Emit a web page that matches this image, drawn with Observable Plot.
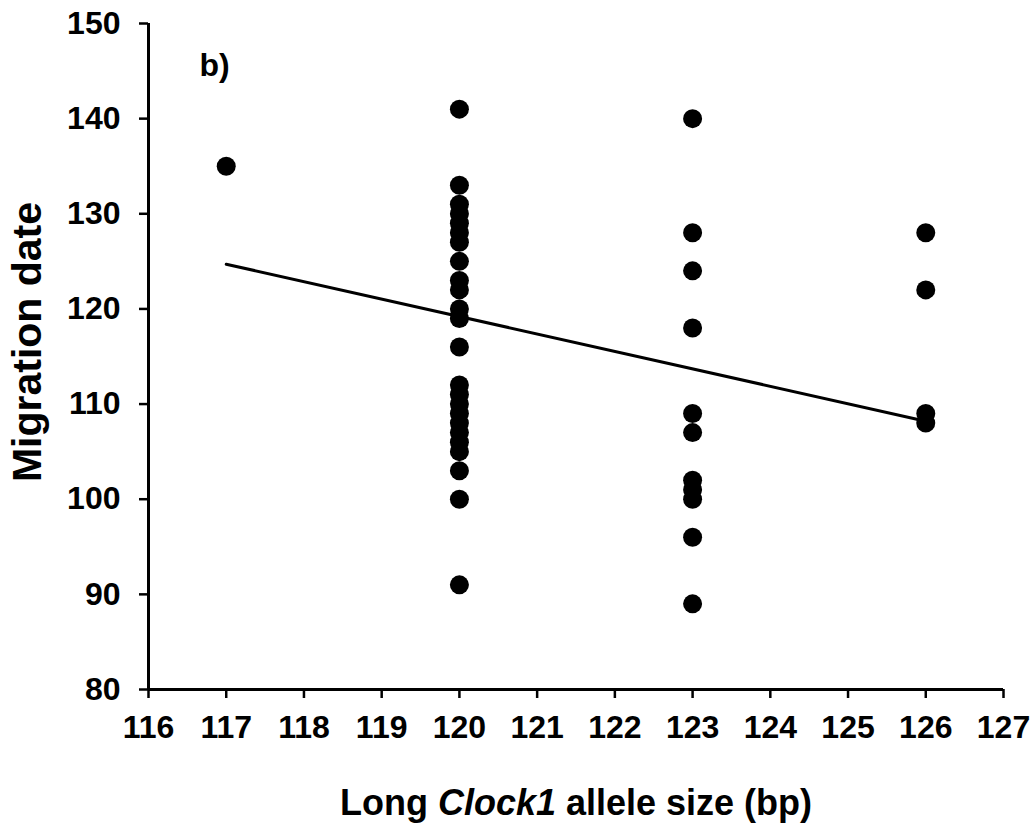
<!DOCTYPE html>
<html><head><meta charset="utf-8">
<script src="https://cdn.jsdelivr.net/npm/d3@7"></script>
<script src="https://cdn.jsdelivr.net/npm/@observablehq/plot@0.6"></script>
<style>body{margin:0;background:#fff;font-family:"Liberation Sans",Arial,sans-serif}</style>
</head><body><div id="chart"></div>
<script>
// Long Clock1 allele size (bp) groups and migration dates
const alleleSizes = [117, 120, 123, 126];
const dates117 = [135];
const dates120 = [141,133,131,130,129,128,127,125,123,122,120,119,116,112,111,110,109,108,107,106,105,103,100,91];
const dates123 = [140,128,124,118,109,107,102,101,100,96,89];
const dates126 = [128,122,109,108];
const trendX = [117, 126];
const trendY = [124.7, 108.2];
const xTicks = [116,117,118,119,120,121,122,123,124,125,126,127];
const yTicks = [80,90,100,110,120,130,140,150];
const panelLabel = "b)";

const groups = [dates117, dates120, dates123, dates126];
const points = groups.flatMap((ds, i) => ds.map(d => ({size: alleleSizes[i], date: d})));
const trend = trendX.map((x, i) => ({x, y: trendY[i]}));

const font = {fontFamily: '"Liberation Sans", Arial, sans-serif', fontWeight: "bold"};

const chart = Plot.plot({
  width: 1030, height: 823,
  marginLeft: 148, marginRight: 27, marginTop: 23, marginBottom: 134,
  style: {fontFamily: font.fontFamily, fontSize: "32px", fontWeight: "bold", background: "#fff", color: "#000"},
  x: {domain: [116, 127]},
  y: {domain: [80, 150]},
  marks: [
    Plot.axisX({ticks: xTicks, tickSize: 9, tickPadding: 17, strokeWidth: 2.5, label: null, fontSize: 32, fontWeight: "bold", tickFormat: d => String(d)}),
    Plot.axisY({ticks: yTicks, tickSize: 9, tickPadding: 19, strokeWidth: 2.5, label: null, fontSize: 32, fontWeight: "bold", tickFormat: d => String(d)}),
    Plot.ruleX([116], {strokeWidth: 3}),
    Plot.ruleY([80], {strokeWidth: 3}),
    Plot.line(trend, {x: "x", y: "y", stroke: "black", strokeWidth: 3}),
    Plot.dot(points, {x: "size", y: "date", r: 9.5, fill: "black"}),
    Plot.text([panelLabel], {frameAnchor: "top-left", dx: 51, dy: 30, fontSize: 32, fontWeight: "bold", textAnchor: "start", lineAnchor: "top"})
  ]
});
document.getElementById("chart").appendChild(chart);

const svg = d3.select(chart);
svg.append("text")
  .attr("transform", "translate(41,342) rotate(-90)")
  .attr("text-anchor", "middle")
  .attr("font-size", 41).attr("font-weight", "bold")
  .attr("font-family", font.fontFamily)
  .attr("fill", "#000")
  .text("Migration date");

const xt = svg.append("text")
  .attr("x", 576).attr("y", 815)
  .attr("text-anchor", "middle")
  .attr("font-size", 36).attr("font-weight", "bold")
  .attr("font-family", font.fontFamily)
  .attr("fill", "#000");
xt.append("tspan").text("Long ");
xt.append("tspan").attr("font-style", "italic").text("Clock1");
xt.append("tspan").text(" allele size (bp)");
</script>
</body></html>
